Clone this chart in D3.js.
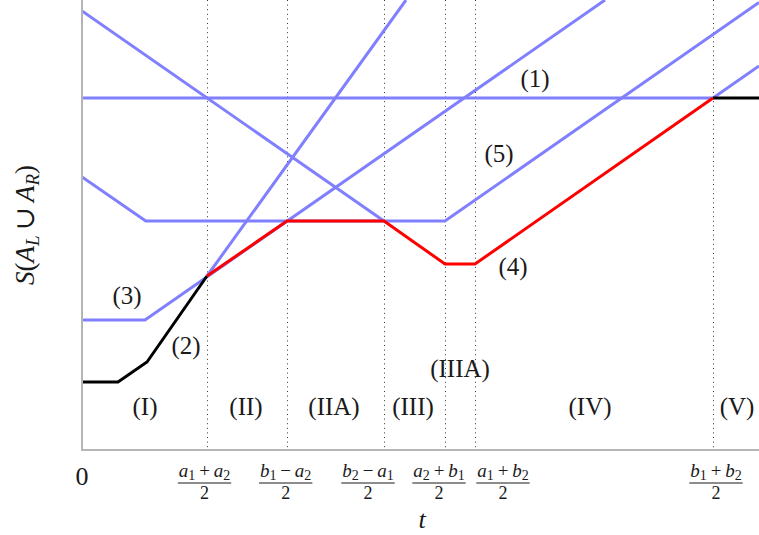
<!DOCTYPE html>
<html>
<head>
<meta charset="utf-8">
<script src="https://cdn.jsdelivr.net/npm/d3@7"></script>
<style>
  body { margin: 0; background: #fff; }
  text { font-family: "Liberation Serif", "DejaVu Serif", serif; fill: #1a1a1a; }
</style>
</head>
<body>
<svg id="chart" width="759" height="535"></svg>
<script>
// breakpoints on the t axis
const tickValues = [5, 8.2, 12.08, 14.52, 15.72, 25.24];
const tickNumerators = ["a_1+a_2", "b_1−a_2", "b_2−a_1", "a_2+b_1", "a_1+b_2", "b_1+b_2"];

// the envelope S(A_L ∪ A_R): black / red / black pieces
const envelopeLeft = [[0, 2.72], [1.44, 2.72], [2.6, 3.52], [5, 6.96]];
const envelopeMid = [[5, 6.96], [8.2, 9.16], [12.08, 9.16], [14.52, 7.44], [15.72, 7.44], [25.24, 14.08]];
const envelopeRight = [[25.24, 14.08], [27.08, 14.08]];

// the bounds (1)..(5), blue
const bound1 = [[0, 14.08], [25.24, 14.08]];
const bound2 = [[5, 6.96], [12.96, 18]];
const bound3 = [[0, 5.2], [2.52, 5.2], [20.92, 18]];
const bound4 = [[0, 17.56], [12.08, 9.16]];
const bound4b = [[25.24, 14.08], [27.08, 15.36]];
const bound5 = [[0, 10.92], [2.55, 9.16], [14.52, 9.16], [27.08, 17.9]];

const curveLabels = ["(1)", "(2)", "(3)", "(4)", "(5)"];
const curveLabelPos = [[18.12, 14.8], [4.16, 4.1], [1.8, 6.1], [17.24, 7.28], [16.68, 11.8]];
const regionLabels = ["(I)", "(II)", "(IIA)", "(III)", "(IIIA)", "(IV)", "(V)"];
const regionLabelPos = [[2.52, 1.68], [6.56, 1.68], [10.08, 1.68], [13.24, 1.68], [15.12, 3.2], [20.32, 1.68], [26.2, 1.68]];

const margin = { top: 0, right: 0, bottom: 85, left: 82 };
const W = 759, H = 535;
const width = W - margin.left - margin.right;
const height = H - margin.top - margin.bottom;

const svg = d3.select("#chart");
const g = svg.append("g").attr("transform", `translate(${margin.left},${margin.top})`);

const x = d3.scaleLinear().domain([0, 27.08]).range([0, width]);
const y = d3.scaleLinear().domain([0, 18]).range([height, 0]);

svg.append("defs").append("clipPath").attr("id", "plot")
  .append("rect").attr("width", width).attr("height", height);

// dotted guides
g.selectAll(".guide")
  .data(tickValues)
  .enter()
  .append("line")
  .attr("x1", d => Math.round(x(d)) + 0.5)
  .attr("x2", d => Math.round(x(d)) + 0.5)
  .attr("y1", 0)
  .attr("y2", height)
  .style("stroke", "#333")
  .style("stroke-width", 1)
  .style("stroke-dasharray", "1,3.6");

const line = d3.line().x(d => x(d[0])).y(d => y(d[1]));
const plot = g.append("g").attr("clip-path", "url(#plot)");

[bound1, bound2, bound3, bound4, bound4b, bound5].forEach(pts => {
  plot.append("path").datum(pts).attr("d", line)
    .style("fill", "none").style("stroke", "#8080ff").style("stroke-width", 3);
});
[envelopeLeft, envelopeRight].forEach(pts => {
  plot.append("path").datum(pts).attr("d", line)
    .style("fill", "none").style("stroke", "#000").style("stroke-width", 3);
});
plot.append("path").datum(envelopeMid).attr("d", line)
  .style("fill", "none").style("stroke", "#ff0000").style("stroke-width", 3);

// axes (just the two grey rules)
g.append("line").attr("x1", 0).attr("x2", 0).attr("y1", 0).attr("y2", height)
  .style("stroke", "#b5b5b5").style("stroke-width", 2);
g.append("line").attr("x1", -1).attr("x2", width).attr("y1", height).attr("y2", height)
  .style("stroke", "#b5b5b5").style("stroke-width", 2);

// labels on the curves and regions
g.selectAll(".clabel")
  .data(curveLabels.map((t, i) => ({ t, p: curveLabelPos[i] })))
  .enter().append("text")
  .attr("x", d => x(d.p[0])).attr("y", d => y(d.p[1]))
  .attr("dy", "0.27em")
  .attr("text-anchor", "middle")
  .style("font-size", "25px")
  .text(d => d.t);

g.selectAll(".rlabel")
  .data(regionLabels.map((t, i) => ({ t, p: regionLabelPos[i] })))
  .enter().append("text")
  .attr("x", d => x(d.p[0])).attr("y", d => y(d.p[1]))
  .attr("dy", "0.27em")
  .attr("text-anchor", "middle")
  .style("font-size", "25px")
  .text(d => d.t);

// tick labels as fractions  (numerator)/2
const labelShift = [-2.5, -1.3, -16, -6, 28, 3];
const fracs = g.selectAll(".frac")
  .data(tickValues)
  .enter().append("g")
  .attr("transform", (d, i) => `translate(${x(d) + labelShift[i]},0)`);

fracs.each(function (d, i) {
  const f = d3.select(this);
  const num = f.append("text")
    .attr("y", height + 27)
    .attr("text-anchor", "middle")
    .style("font-size", "19px");
  const s = tickNumerators[i];
  let down = false;
  for (let k = 0; k < s.length; k++) {
    const c = s[k];
    let ts;
    if (c === "_") {
      ts = num.append("tspan").attr("dy", 3).style("font-size", "14px").text(s[k + 1]);
      down = true;
      k++;
      continue;
    } else if (c === "+" || c === "−") {
      ts = num.append("tspan").text("\u2009" + c + "\u2009");
    } else {
      ts = num.append("tspan").style("font-style", "italic").text(c);
    }
    if (down) { ts.attr("dy", -3); down = false; }
  }
  const w = num.node().getBBox().width;
  f.append("line")
    .attr("x1", -w / 2 - 1).attr("x2", w / 2 + 1)
    .attr("y1", height + 33).attr("y2", height + 33)
    .style("stroke", "#1a1a1a").style("stroke-width", 1);
  f.append("text")
    .attr("y", height + 49)
    .attr("text-anchor", "middle")
    .style("font-size", "18px")
    .text("2");
});

// origin
g.append("text")
  .attr("x", x(0)).attr("y", height + 35)
  .attr("text-anchor", "middle")
  .style("font-size", "26px")
  .text("0");

// axis titles
svg.append("text")
  .attr("x", 422).attr("y", 528)
  .attr("text-anchor", "middle")
  .style("font-size", "26px")
  .style("font-style", "italic")
  .text("t");

const yl = svg.append("text")
  .attr("transform", "translate(34,225) rotate(-90)")
  .attr("text-anchor", "middle")
  .style("font-size", "27px");
yl.append("tspan").style("font-style", "italic").text("S");
yl.append("tspan").text("(");
yl.append("tspan").style("font-style", "italic").text("A");
yl.append("tspan").attr("dy", 5).style("font-size", "19px").style("font-style", "italic").text("L");
yl.append("tspan").attr("dy", -5).text("\u2009∪\u2009");
yl.append("tspan").style("font-style", "italic").text("A");
yl.append("tspan").attr("dy", 5).style("font-size", "19px").style("font-style", "italic").text("R");
yl.append("tspan").attr("dy", -5).text(")");
</script>
</body>
</html>
